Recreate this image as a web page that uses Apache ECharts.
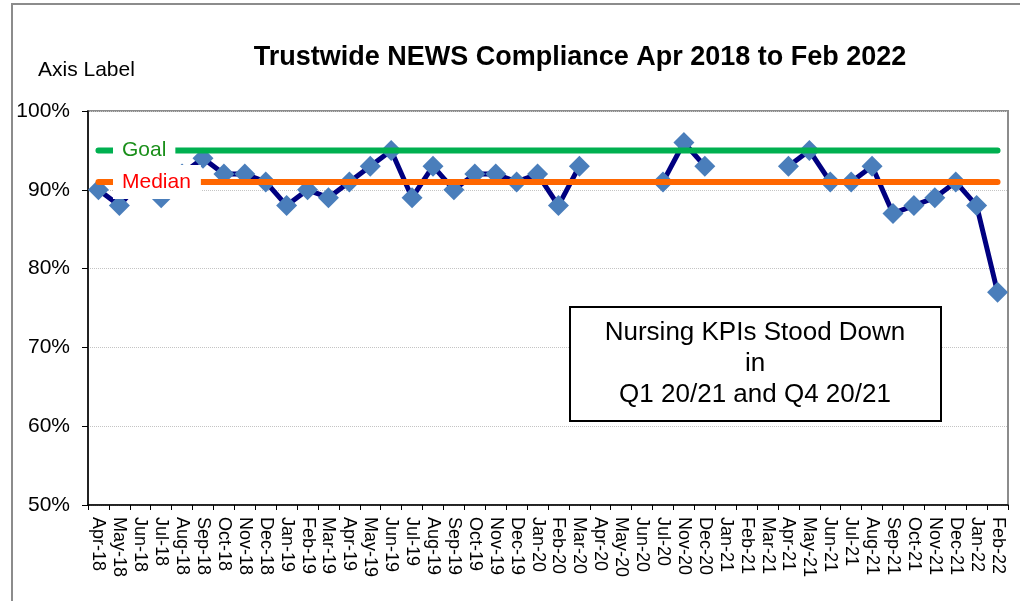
<!DOCTYPE html>
<html>
<head>
<meta charset="utf-8">
<title>Trustwide NEWS Compliance</title>
<script src="https://cdn.jsdelivr.net/npm/echarts@6/dist/echarts.min.js"></script>
<style>
  html, body { margin: 0; padding: 0; background: #fff; }
  #main { width: 1020px; height: 601px; }
</style>
</head>
<body>
<div id="main"></div>
<script>
// months shown on the axis (Aug-20 to Oct-20 are not in the sheet)
const months = [
  'Apr-18', 'May-18', 'Jun-18', 'Jul-18', 'Aug-18', 'Sep-18', 'Oct-18', 'Nov-18', 'Dec-18',
  'Jan-19', 'Feb-19', 'Mar-19', 'Apr-19', 'May-19', 'Jun-19', 'Jul-19', 'Aug-19', 'Sep-19',
  'Oct-19', 'Nov-19', 'Dec-19', 'Jan-20', 'Feb-20', 'Mar-20', 'Apr-20', 'May-20', 'Jun-20',
  'Jul-20', 'Nov-20', 'Dec-20', 'Jan-21', 'Feb-21', 'Mar-21', 'Apr-21', 'May-21', 'Jun-21',
  'Jul-21', 'Aug-21', 'Sep-21', 'Oct-21', 'Nov-21', 'Dec-21', 'Jan-22', 'Feb-22'
];
// compliance %, null = KPI stood down
const compliance = [
  90, 88, 91, 89, 92, 94, 92, 92, 91,
  88, 90, 89, 91, 93, 95, 89, 93, 90,
  92, 92, 91, 92, 88, 93, null, null, null,
  91, 96, 93, null, null, null, 93, 95, 91,
  91, 93, 87, 88, 89, 91, 88, 77
];
const goalValue = 95;
const medianValue = 91;
const goalLine = months.map(() => goalValue);
const medianLine = months.map(() => medianValue);

const FONT = 'Liberation Sans, Arial, sans-serif';

const chart = echarts.init(document.getElementById('main'));

const option = {
  animation: false,
  backgroundColor: '#fff',
  grid: {
    left: 88, right: 12, top: 111, bottom: 96,
    show: true, borderColor: '#8c8c8c', borderWidth: 2
  },
  xAxis: {
    type: 'category',
    data: months,
    boundaryGap: true,
    axisLine: { lineStyle: { color: '#000', width: 1.5 } },
    axisTick: { show: true, interval: 0, length: 5, lineStyle: { color: '#000' } },
    axisLabel: { interval: 0, rotate: -90, fontSize: 18, margin: 12, color: '#000', fontFamily: FONT },
    splitLine: { show: false }
  },
  yAxis: {
    type: 'value',
    min: 50, max: 100, interval: 10,
    axisLine: { show: true, lineStyle: { color: '#000', width: 1.5 } },
    axisTick: { show: true, length: 6, lineStyle: { color: '#000' } },
    axisLabel: { formatter: '{value}%', fontSize: 21, margin: 18, color: '#000', fontFamily: FONT },
    splitLine: { show: true, lineStyle: { color: '#c4c4c4', type: 'dotted', width: 1 } }
  },
  series: [
    {
      name: 'Compliance',
      type: 'line',
      data: compliance,
      connectNulls: false,
      symbol: 'diamond',
      symbolSize: 21,
      itemStyle: { color: '#4a7ebb' },
      lineStyle: { color: '#000080', width: 5 },
      z: 2
    },
    {
      name: 'Goal',
      type: 'line',
      data: goalLine,
      symbol: 'none',
      lineStyle: { color: '#00b050', width: 6, cap: 'round' },
      z: 3
    },
    {
      name: 'Median',
      type: 'line',
      data: medianLine,
      symbol: 'none',
      lineStyle: { color: '#ff6600', width: 6, cap: 'round' },
      z: 3
    }
  ]
};
chart.setOption(option);

// labels sitting on the goal / median lines, plus title, axis caption and note box
const goalY = chart.convertToPixel({ yAxisIndex: 0 }, goalValue);
const medianY = chart.convertToPixel({ yAxisIndex: 0 }, medianValue);

chart.setOption({
  graphic: [
    {
      type: 'rect', z: 0, silent: true,
      shape: { x: 12, y: 4, width: 1030, height: 620 },
      style: { fill: 'none', stroke: '#8c8c8c', lineWidth: 2 }
    },
    {
      type: 'text', z: 100,
      style: {
        text: 'Trustwide NEWS Compliance Apr 2018 to Feb 2022',
        x: 580, y: 58, align: 'center', verticalAlign: 'middle',
        font: 'bold 27px ' + FONT, fill: '#000'
      }
    },
    {
      type: 'text', z: 100,
      style: {
        text: 'Axis Label', x: 38, y: 70, align: 'left', verticalAlign: 'middle',
        font: '21px ' + FONT, fill: '#000'
      }
    },
    {
      type: 'text', z: 100,
      style: {
        text: 'Goal', x: 113, y: goalY, align: 'left', verticalAlign: 'middle',
        font: '21px ' + FONT, fill: '#1a8f1a',
        backgroundColor: '#fff', padding: [2, 9, 1, 9]
      }
    },
    {
      type: 'text', z: 100,
      style: {
        text: 'Median', x: 113, y: medianY, align: 'left', verticalAlign: 'middle',
        font: '21px ' + FONT, fill: '#ff0000',
        backgroundColor: '#fff', padding: [6, 10, 7, 9]
      }
    },
    {
      type: 'rect', z: 100,
      shape: { x: 570, y: 307, width: 371, height: 114 },
      style: { fill: '#fff', stroke: '#000', lineWidth: 2 }
    },
    {
      type: 'text', z: 101,
      style: {
        text: 'Nursing KPIs Stood Down\nin\nQ1 20/21 and Q4 20/21',
        x: 755, y: 364, align: 'center', verticalAlign: 'middle',
        font: '26px ' + FONT, lineHeight: 31, fill: '#000'
      }
    }
  ]
});
</script>
</body>
</html>
